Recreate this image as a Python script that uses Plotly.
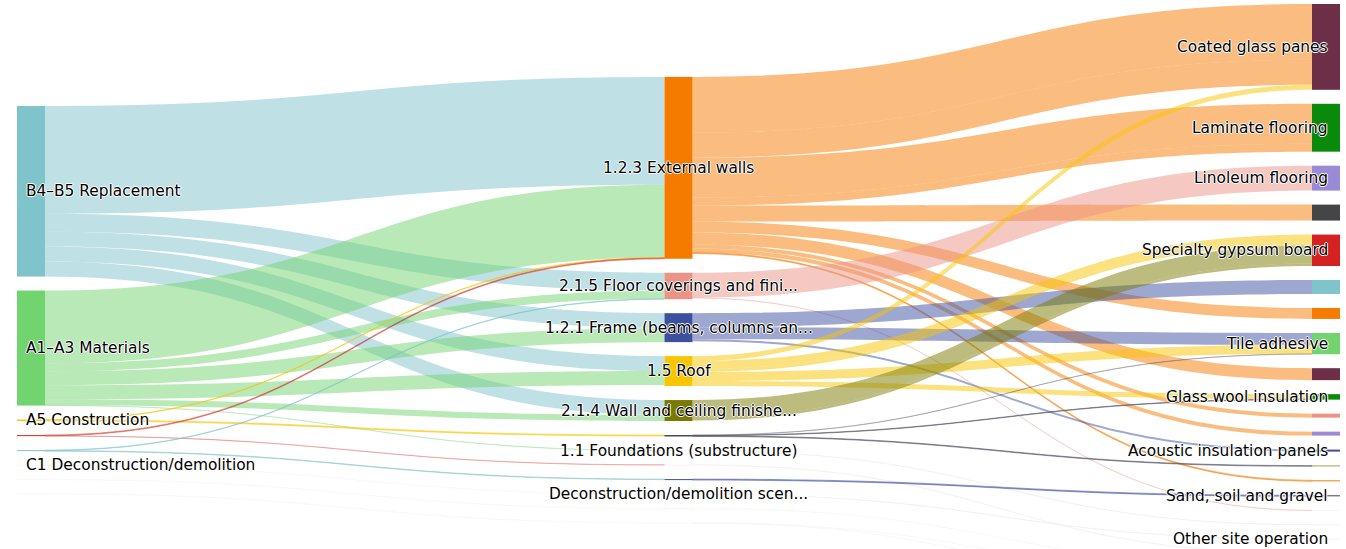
import plotly.graph_objects as go

# ---- data ----------------------------------------------------------------
node_names = [
    # life-cycle stages
    "B4–B5 Replacement", "A1–A3 Materials", "A5 Construction", "", "",
    "C1 Deconstruction/demolition", "", "",
    # building elements
    "1.2.3 External walls", "2.1.5 Floor coverings and fini...",
    "1.2.1 Frame (beams, columns an...", "1.5 Roof",
    "2.1.4 Wall and ceiling finishe...", "", "1.1 Foundations (substructure)",
    "", "", "Deconstruction/demolition scen...", "", "",
    # materials / processes
    "Coated glass panes", "Laminate flooring", "Linoleum flooring", "",
    "Specialty gypsum board", "", "", "Tile adhesive", "",
    "Glass wool insulation", "", "", "Acoustic insulation panels", "", "",
    "Sand, soil and gravel", "", "", "Other site operation", "", "", "", "",
]
node_colors = [
    "#7fc3cb", "#72d46f", "#f8c500", "#d23a34", "#7fc3cb", "#eeeeee", "#eeeeee", "#eeeeee",
    "#f57b00", "#ec9386", "#3d4f9f", "#f8c500", "#7a7a00", "#4a4a5a", "#e4e4e4",
    "#e4e4e4", "#3d4f9f", "#e4e4e4", "#eeeeee", "#eeeeee",
    "#6d2e48", "#0a8a0a", "#9b8bd6", "#454547", "#d42222", "#7fc3cb",
    "#f57b00", "#72d46f", "#6d2e48", "#0a8a0a", "#ec9386", "#9b8bd6",
    "#3d4f9f", "#7a7a00", "#f57b00", "#6d2e48", "#e8e8e8", "#e8e8e8", "#e8e8e8",
    "#eeeeee", "#eeeeee", "#eeeeee", "#eeeeee",
]

link_source = [
    0, 0, 0, 0, 0,
    1, 1, 1, 1, 1, 1,
    2, 2, 3, 3, 4, 4, 5, 6, 7,
    8, 8, 8, 8, 8, 8, 8, 8, 8, 8,
    9, 9,
    10, 10, 10,
    11, 11, 11, 11, 11,
    12, 12,
    13, 13, 13,
    14, 15, 16, 17, 18, 19, 19,
]
link_target = [
    8, 9, 10, 11, 12,
    8, 9, 10, 11, 12, 14,
    8, 13, 8, 15, 9, 16, 17, 18, 19,
    20, 20, 21, 21, 23, 26, 28, 30, 31, 34,
    22, 36,
    25, 27, 32,
    20, 24, 24, 27, 29,
    24, 24,
    27, 29, 33,
    37, 39, 35, 38, 40, 41, 42,
]
link_value = [
    108, 18, 15, 15, 15,
    73, 8, 14, 14, 6, 0.3,
    0.5, 1, 0.8, 0.3, 0.5, 0.5, 0.3, 0.3, 0.3,
    56, 25, 40, 8, 16, 11, 12, 4, 4, 1,
    25, 0.3,
    14, 12, 2,
    5, 8, 3, 9, 5,
    18, 2.5,
    0.3, 0.5, 0.7,
    0.3, 0.2, 1, 0.3, 0.2, 0.2, 0.2,
]

# ---- layout rules ---------------------------------------------------------
W, H = 1346, 600          # page shows the top 549 px of the chart
M_L, M_R, M_T, M_B = 17, 6, 4, 4
PAD, THICK = 14, 28
plot_w, plot_h = W - M_L - M_R, H - M_T - M_B

n = len(node_names)
v_in = [0.0] * n
v_out = [0.0] * n
for s, t, v in zip(link_source, link_target, link_value):
    v_out[s] += v
    v_in[t] += v
node_value = [max(a, b) for a, b in zip(v_in, v_out)]
node_col = [0 if v_in[i] == 0 else (2 if v_out[i] == 0 else 1) for i in range(n)]

columns = [[i for i in range(n) if node_col[i] == c] for c in range(3)]
ky = min((plot_h - (len(c) - 1) * PAD) / sum(node_value[i] for i in c) for c in columns)

# stack nodes in input order, each column centred vertically
node_x, node_y = [0.0] * n, [0.0] * n
col_x = [THICK / 2 / plot_w, 0.5, 1 - THICK / 2 / plot_w]
for c, members in enumerate(columns):
    col_h = sum(node_value[i] * ky for i in members) + (len(members) - 1) * PAD
    y = (plot_h - col_h) / 2
    for i in members:
        h = node_value[i] * ky
        node_x[i] = col_x[c]
        node_y[i] = (y + h / 2) / plot_h
        y += h + PAD


def rgba(hex_color, alpha):
    h = hex_color.lstrip("#")
    return f"rgba({int(h[0:2], 16)},{int(h[2:4], 16)},{int(h[4:6], 16)},{alpha})"


# hairline flows are drawn fainter
link_colors = [rgba(node_colors[s], 0.5 if v > 0.3 else 0.25)
               for s, v in zip(link_source, link_value)]

fig = go.Figure(go.Sankey(
    arrangement="fixed",
    node=dict(
        label=[""] * n,
        customdata=node_names,
        hovertemplate="%{customdata}<extra></extra>",
        color=node_colors,
        pad=PAD,
        thickness=THICK,
        line=dict(width=0),
        x=node_x,
        y=node_y,
    ),
    link=dict(
        source=link_source,
        target=link_target,
        value=link_value,
        color=link_colors,
    ),
))

# node labels: centred on the node, kept inside the plot area at the edges
label_font = dict(family="DejaVu Sans", size=15.4, color="#000000",
                  shadow="1px 0 0 #fff, -1px 0 0 #fff, 0 1px 0 #fff, 0 -1px 0 #fff")
for i, name in enumerate(node_names):
    if not name:
        continue
    c = node_col[i]
    fig.add_annotation(
        x=[0, 0.5, 1][c], y=1 - node_y[i], xref="paper", yref="paper",
        xanchor=["left", "center", "right"][c], yanchor="middle",
        xshift=[7, 0, -10][c],
        text=name, showarrow=False, font=label_font,
    )

fig.update_layout(
    width=W, height=H,
    margin=dict(l=M_L, r=M_R, t=M_T, b=M_B),
    paper_bgcolor="white",
    plot_bgcolor="white",
)

fig.write_html(
    "out.html",
    config={"displayModeBar": False},
    post_script="document.body.style.margin='0px';"
                "document.body.style.overflow='hidden';"
                "document.documentElement.style.overflow='hidden';",
)
